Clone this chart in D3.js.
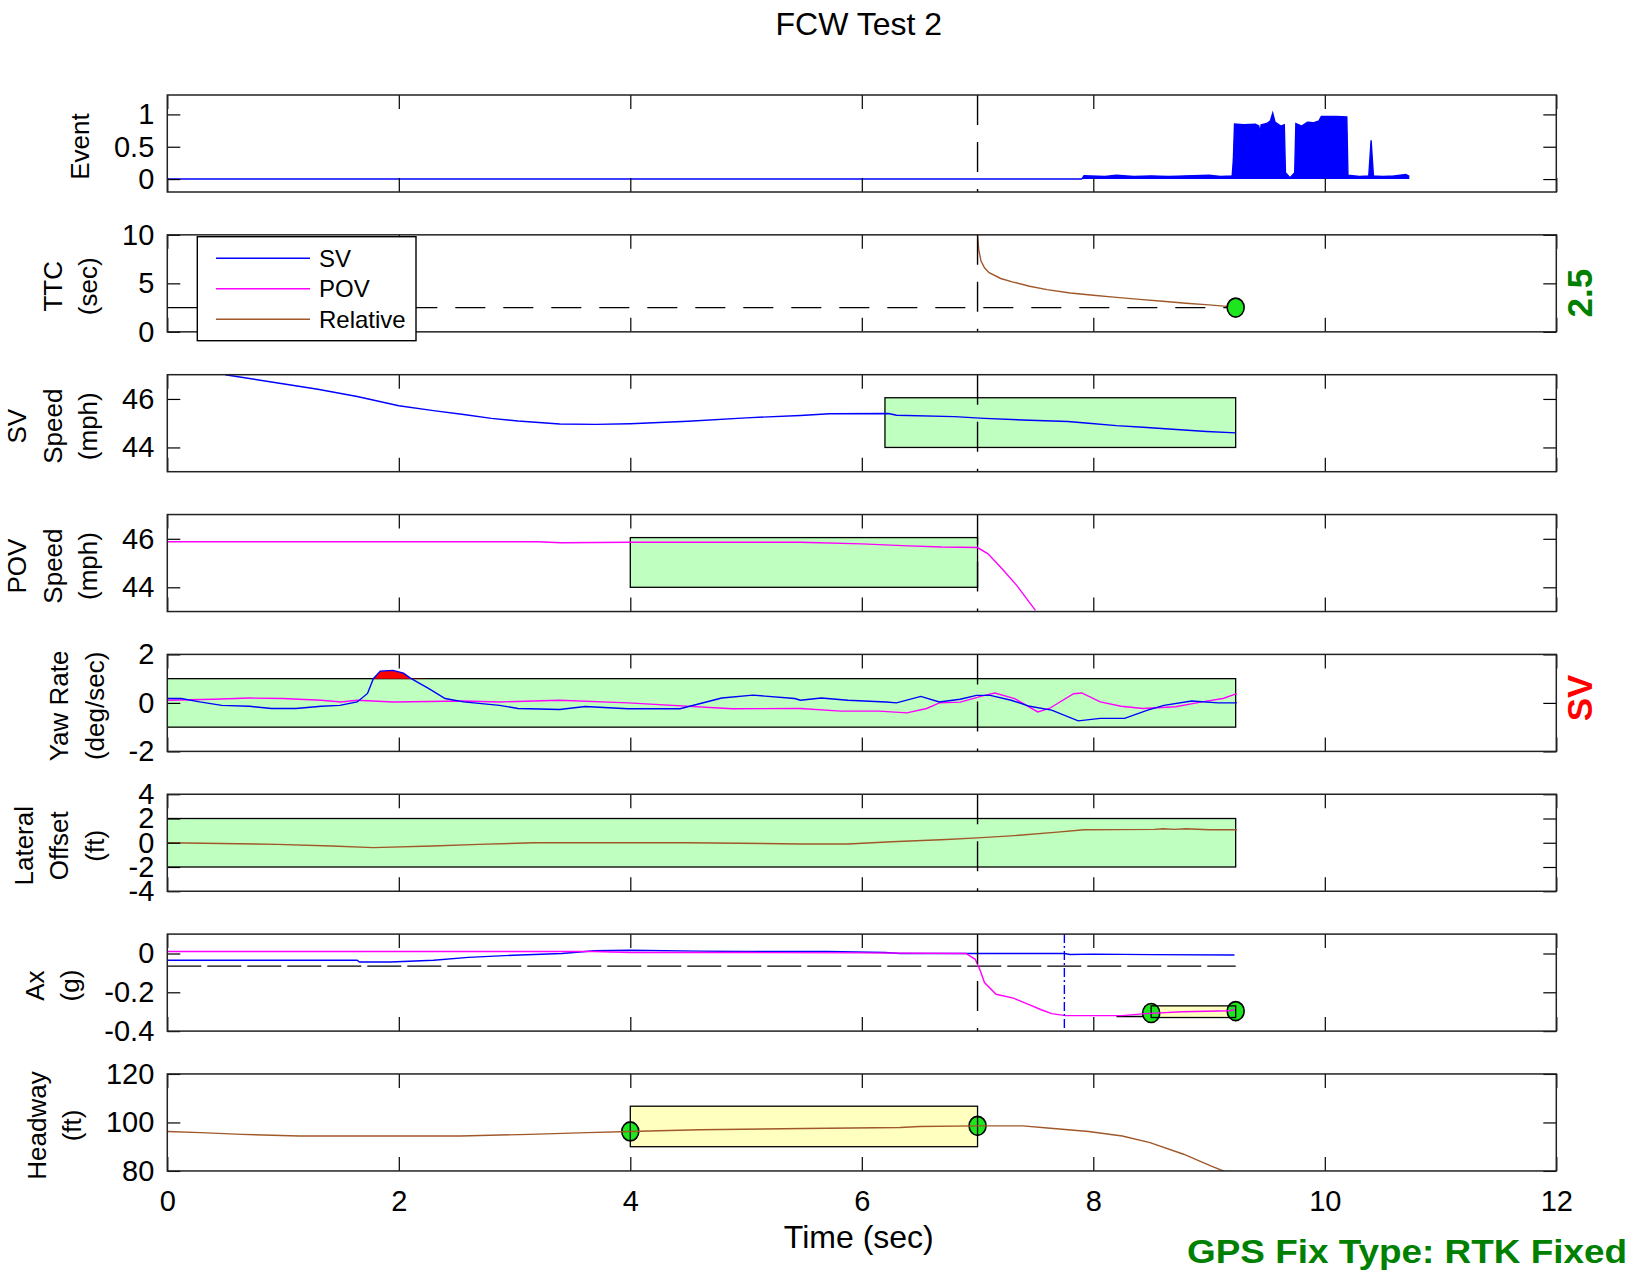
<!DOCTYPE html>
<html>
<head>
<meta charset="utf-8">
<script src="https://cdn.jsdelivr.net/npm/d3@7"></script>
<style>
  body { margin: 0; background: #fff; }
  svg text { font-family: "Liberation Sans", Arial, Helvetica, sans-serif; }
</style>
</head>
<body>
<script>
//everything inside an anonymous function so nothing leaks to global scope
(function(){

    //x axis (time, sec)
    var timeTicks = [0, 2, 4, 6, 8, 10, 12];

    //Event signal (envelope of the fast toggling flag)
    var eventT = [0, 7.9, 7.92, 8.1, 8.2, 8.35, 8.5, 8.65, 8.8, 9.0, 9.1, 9.2, 9.21, 9.22, 9.3, 9.4, 9.43, 9.44, 9.45, 9.5, 9.53, 9.55, 9.57, 9.62, 9.65, 9.66, 9.7, 9.74, 9.75, 9.8, 9.85, 9.9, 9.95, 9.97, 10.1, 10.19, 10.2, 10.3, 10.38, 10.4, 10.42, 10.5, 10.6, 10.7, 10.73];
    var eventV = [0, 0, 0.05, 0.04, 0.06, 0.04, 0.05, 0.04, 0.05, 0.06, 0.04, 0.05, 0.3, 0.85, 0.84, 0.85, 0.82, 0.7, 0.84, 0.86, 0.9, 1.02, 0.88, 0.82, 0.84, 0.1, 0.02, 0.1, 0.86, 0.82, 0.88, 0.87, 0.9, 0.97, 0.97, 0.96, 0.06, 0.04, 0.05, 0.6, 0.05, 0.04, 0.05, 0.07, 0.04];

    //TTC (relative)
    var ttcT = [7.0, 7.01, 7.03, 7.06, 7.1, 7.2, 7.3, 7.45, 7.6, 7.8, 8.0, 8.2, 8.4, 8.6, 8.8, 9.0, 9.23];
    var ttcV = [10, 8.5, 7.3, 6.6, 6.1, 5.5, 5.15, 4.7, 4.35, 4.0, 3.78, 3.55, 3.35, 3.15, 2.95, 2.78, 2.55];
    var ttcThreshold = 2.5;
    var ttcThresholdT = [0, 9.23];

    //SV speed (mph)
    var svT = [0.5, 0.9, 1.3, 1.64, 2.0, 2.3, 2.56, 2.8, 3.03, 3.39, 3.7, 4.0, 4.5, 5.0, 5.47, 5.72, 6.23, 6.3, 6.8, 7.06, 7.45, 7.78, 7.96, 8.2, 8.43, 8.75, 8.98, 9.23];
    var svV = [47.0, 46.7, 46.4, 46.1, 45.72, 45.52, 45.36, 45.2, 45.09, 44.97, 44.95, 44.98, 45.08, 45.22, 45.32, 45.39, 45.4, 45.33, 45.27, 45.2, 45.12, 45.07, 45.0, 44.9, 44.83, 44.73, 44.66, 44.6];
    var svBoxT = [6.2, 9.23], svBoxV = [44, 46.05];

    //POV speed (mph)
    var povT = [0, 3.2, 3.4, 4.0, 5.0, 5.47, 6.0, 6.35, 6.69, 7.0, 7.09, 7.2, 7.34, 7.5];
    var povV = [45.88, 45.88, 45.84, 45.86, 45.86, 45.86, 45.79, 45.72, 45.66, 45.64, 45.38, 44.83, 44.07, 43.05];
    var povBoxT = [4, 7], povBoxV = [44, 46.05];

    //yaw rate (deg/sec)
    var yawSvT = [0, 0.12, 0.28, 0.47, 0.71, 0.9, 1.11, 1.33, 1.49, 1.64, 1.73, 1.78, 1.84, 1.95, 2.04, 2.1, 2.26, 2.4, 2.56, 2.87, 3.03, 3.39, 3.61, 3.98, 4.43, 4.79, 5.06, 5.42, 5.47, 5.65, 5.88, 6.21, 6.3, 6.51, 6.67, 6.85, 6.99, 7.11, 7.29, 7.45, 7.64, 7.87, 8.06, 8.27, 8.47, 8.61, 8.85, 9.08, 9.24];
    var yawSvV = [0.18, 0.18, 0.04, -0.1, -0.14, -0.23, -0.23, -0.14, -0.1, 0.04, 0.39, 1.0, 1.31, 1.34, 1.23, 1.02, 0.59, 0.18, 0.04, -0.1, -0.23, -0.27, -0.15, -0.24, -0.24, 0.2, 0.32, 0.18, 0.11, 0.2, 0.11, 0.04, 0.0, 0.27, 0.04, 0.15, 0.31, 0.31, 0.11, -0.14, -0.3, -0.74, -0.64, -0.64, -0.3, -0.1, 0.08, 0.0, 0.0];
    var yawPovT = [0, 0.4, 0.71, 1.0, 1.33, 1.5, 1.64, 1.95, 2.56, 2.87, 3.39, 3.98, 4.88, 5.47, 5.82, 6.15, 6.39, 6.56, 6.67, 6.85, 7.06, 7.15, 7.32, 7.52, 7.62, 7.83, 7.9, 8.06, 8.24, 8.43, 8.71, 8.94, 9.12, 9.24];
    var yawPovV = [0.11, 0.15, 0.2, 0.18, 0.11, 0.04, 0.11, 0.04, 0.08, 0.04, 0.11, 0.0, -0.24, -0.23, -0.34, -0.34, -0.41, -0.23, 0.0, 0.03, 0.31, 0.41, 0.18, -0.37, -0.23, 0.38, 0.41, 0.04, -0.14, -0.23, -0.16, 0.04, 0.18, 0.38];
    var yawBoxT = [0, 9.23], yawBoxV = [-1, 1];

    //lateral offset (ft)
    var latT = [0, 0.95, 1.42, 1.78, 2.29, 2.69, 3.17, 4.5, 5.47, 5.88, 6.26, 6.73, 7.0, 7.32, 7.69, 7.92, 8.53, 8.6, 8.7, 8.8, 9.0, 9.24];
    var latV = [0, -0.13, -0.27, -0.4, -0.27, -0.13, 0, 0, -0.1, -0.1, 0.08, 0.27, 0.4, 0.59, 0.88, 1.07, 1.1, 1.15, 1.1, 1.15, 1.07, 1.07];
    var latBoxT = [0, 9.23], latBoxV = [-2, 2];

    //longitudinal acceleration (g)
    var axSvT = [0, 1.64, 1.66, 1.93, 2.3, 2.6, 2.99, 3.41, 3.69, 3.99, 4.6, 5.0, 5.7, 6.2, 6.33, 7.75, 7.8, 8.0, 8.5, 9.22];
    var axSvV = [-0.035, -0.035, -0.044, -0.044, -0.035, -0.02, -0.009, 0, 0.014, 0.017, 0.012, 0.01, 0.01, 0.005, 0, 0, -0.005, -0.003, -0.006, -0.008];
    var axPovT = [0, 3.69, 4.0, 5.0, 6.0, 6.9, 6.98, 7.02, 7.06, 7.16, 7.31, 7.43, 7.55, 7.64, 7.76, 8.25, 8.45, 8.77, 9.18, 9.22];
    var axPovV = [0.01, 0.01, 0.005, 0.005, 0.003, 0, -0.03, -0.083, -0.15, -0.21, -0.23, -0.26, -0.29, -0.31, -0.32, -0.32, -0.31, -0.3, -0.295, -0.29];
    var axThreshold = -0.065, axThresholdT = [0, 9.23];
    var axMarkerT = 7.75;
    var axBoxT = [8.5, 9.23], axBoxV = [-0.33, -0.27];
    var axLeadT = [8.2, 8.5], axLeadV = -0.325;
    var axDotT = [8.5, 9.23], axDotV = [-0.307, -0.297];

    //headway (ft)
    var hwT = [0, 0.29, 0.64, 1.14, 2.53, 3.13, 3.63, 3.99, 4.6, 5.5, 6.33, 6.5, 7.0, 7.39, 7.63, 7.96, 8.25, 8.49, 8.78, 9.02, 9.14];
    var hwV = [96.25, 95.8, 95.1, 94.4, 94.4, 95.1, 95.8, 96.25, 97, 97.5, 97.9, 98.3, 98.6, 98.6, 97.6, 96.25, 94.4, 91.7, 86.9, 82.0, 79.7];
    var hwBoxT = [4, 7], hwBoxV = [90, 106.7];
    var hwDotT = [4, 7], hwDotV = [96.3, 98.6];

    var ttcDotT = [9.23], ttcDotV = [2.5];
    var eventLineT = 7;

    //axis setup for each subplot
    var yDomains = [[-0.2, 1.3], [0, 10], [43, 47], [43, 47], [-2, 2], [-4, 4], [-0.4, 0.1], [80, 120]];
    var yTicks = [[0, 0.5, 1], [0, 5, 10], [44, 46], [44, 46], [-2, 0, 2], [-4, -2, 0, 2, 4], [-0.4, -0.2, 0], [80, 100, 120]];
    var yLabels = [["Event"], ["TTC", "(sec)"], ["SV", "Speed", "(mph)"], ["POV", "Speed", "(mph)"],
                   ["Yaw Rate", "(deg/sec)"], ["Lateral", "Offset", "(ft)"], ["Ax", "(g)"], ["Headway", "(ft)"]];
    var legendNames = ["SV", "POV", "Relative"];

    var blue = "#0000ff", magenta = "#ff00ff", brown = "#a0582a";
    var legendColors = [blue, magenta, brown];
    var greenFill = "#bfffbf", yellowFill = "#ffffc0", dotFill = "#1ee61e";

    var width = 1640, height = 1274;
    var left = 167.3, right = 1556.3;
    var panelTop0 = 95, panelStep = 139.85, panelH = 97;

    var svg = d3.select("body").append("svg")
        .attr("width", width)
        .attr("height", height);

    var x = d3.scaleLinear().domain([0, 12]).range([left, right]);

    var panels = [];
    for (var i = 0; i < yDomains.length; i++){
        var top = panelTop0 + i * panelStep;
        var y = d3.scaleLinear().domain(yDomains[i]).range([top + panelH, top]);
        svg.append("clipPath").attr("id", "clip" + i)
            .append("rect")
            .attr("x", left).attr("y", top)
            .attr("width", right - left).attr("height", panelH);
        var g = svg.append("g").attr("class", "panel");
        var plot = g.append("g").attr("clip-path", "url(#clip" + i + ")");
        panels.push({y: y, g: g, plot: plot, top: top, index: i});
    }

    function pairs(ts, vs){
        return ts.map(function(t, k){ return [t, vs[k]]; });
    }

    function drawLine(p, ts, vs, color, dash){
        var line = d3.line()
            .x(function(d){ return x(d[0]); })
            .y(function(d){ return p.y(d[1]); });
        return p.plot.append("path")
            .datum(pairs(ts, vs))
            .attr("d", line)
            .attr("fill", "none")
            .attr("stroke", color)
            .attr("stroke-width", 1.4)
            .attr("stroke-dasharray", dash || null);
    }

    function drawBox(p, bt, bv, fill){
        return p.plot.append("rect")
            .attr("x", x(bt[0]))
            .attr("y", p.y(bv[1]))
            .attr("width", x(bt[1]) - x(bt[0]))
            .attr("height", p.y(bv[0]) - p.y(bv[1]))
            .attr("fill", fill || "none")
            .attr("stroke", fill ? "none" : "#000")
            .attr("stroke-width", 1.3);
    }

    function drawDots(p, ts, vs){
        p.plot.selectAll(null)
            .data(pairs(ts, vs))
            .enter()
            .append("ellipse")
            .attr("cx", function(d){ return x(d[0]); })
            .attr("cy", function(d){ return p.y(d[1]); })
            .attr("rx", 8.5)
            .attr("ry", 9.5)
            .attr("fill", dotFill)
            .attr("stroke", "#000")
            .attr("stroke-width", 1.6);
    }

    function drawVLine(p, t, color, dash){
        var dom = p.y.domain();
        drawLine(p, [t, t], [dom[1], dom[0]], color, dash);
    }

    //Event
    var pE = panels[0];
    pE.plot.append("path")
        .datum(pairs(eventT, eventV))
        .attr("d", d3.area()
            .x(function(d){ return x(d[0]); })
            .y0(pE.y(0))
            .y1(function(d){ return pE.y(d[1]); }))
        .attr("fill", blue);
    drawLine(pE, eventT, eventV, blue);

    //TTC
    var pT = panels[1];
    drawLine(pT, ttcThresholdT, [ttcThreshold, ttcThreshold], "#000", "30,18");
    drawLine(pT, ttcT, ttcV, brown);
    drawDots(pT, ttcDotT, ttcDotV);

    //SV speed
    var pS = panels[2];
    drawBox(pS, svBoxT, svBoxV, greenFill);
    drawBox(pS, svBoxT, svBoxV);
    drawLine(pS, svT, svV, blue);

    //POV speed
    var pP = panels[3];
    drawBox(pP, povBoxT, povBoxV, greenFill);
    drawBox(pP, povBoxT, povBoxV);
    drawLine(pP, povT, povV, magenta);

    //yaw rate, red where SV exceeds the band
    var pY = panels[4];
    drawBox(pY, yawBoxT, yawBoxV, greenFill);
    drawBox(pY, yawBoxT, yawBoxV);
    pY.plot.append("path")
        .datum(pairs(yawSvT, yawSvV))
        .attr("d", d3.area()
            .x(function(d){ return x(d[0]); })
            .y0(pY.y(yawBoxV[1]))
            .y1(function(d){ return pY.y(Math.max(d[1], yawBoxV[1])); }))
        .attr("fill", "#ff0000");
    drawLine(pY, yawPovT, yawPovV, magenta);
    drawLine(pY, yawSvT, yawSvV, blue);

    //lateral offset
    var pL = panels[5];
    drawBox(pL, latBoxT, latBoxV, greenFill);
    drawBox(pL, latBoxT, latBoxV);
    drawLine(pL, latT, latV, brown);

    //Ax
    var pA = panels[6];
    drawLine(pA, axThresholdT, [axThreshold, axThreshold], "#000", "34,6");
    drawBox(pA, axBoxT, axBoxV, yellowFill);
    drawLine(pA, axLeadT, [axLeadV, axLeadV], "#000");
    drawDots(pA, axDotT, axDotV);
    drawBox(pA, axBoxT, axBoxV);
    drawLine(pA, axSvT, axSvV, blue);
    drawLine(pA, axPovT, axPovV, magenta);
    drawVLine(pA, axMarkerT, blue, "9,3,2,3");

    //headway
    var pH = panels[7];
    drawBox(pH, hwBoxT, hwBoxV, yellowFill);
    drawDots(pH, hwDotT, hwDotV);
    drawBox(pH, hwBoxT, hwBoxV);
    drawLine(pH, hwT, hwV, brown);

    //dashed event marker at t = 7 in the upper seven panels
    panels.slice(0, 7).forEach(function(p){
        drawVLine(p, eventLineT, "#000", "30,17");
    });

    //axes: ticks inside on all four sides, box frame
    panels.forEach(function(p){
        var i = p.index;
        var isLast = i === panels.length - 1;

        var yl = p.g.append("g")
            .attr("transform", "translate(" + left + ",0)")
            .call(d3.axisLeft(p.y).tickValues(yTicks[i]).tickSize(-13).tickSizeOuter(0).tickPadding(13)
                .tickFormat(function(d){ return String(d); }));
        p.g.append("g")
            .attr("transform", "translate(" + right + ",0)")
            .call(d3.axisRight(p.y).tickValues(yTicks[i]).tickSize(-13).tickSizeOuter(0).tickFormat(""));
        p.g.append("g")
            .attr("transform", "translate(0," + p.top + ")")
            .call(d3.axisTop(x).tickValues(timeTicks).tickSize(-14).tickSizeOuter(0).tickFormat(""));
        var xb = p.g.append("g")
            .attr("transform", "translate(0," + (p.top + panelH) + ")")
            .call(d3.axisBottom(x).tickValues(timeTicks).tickSize(-14).tickSizeOuter(0).tickPadding(19)
                .tickFormat(isLast ? function(d){ return String(d); } : ""));

        p.g.selectAll(".domain").remove();
        p.g.selectAll(".tick line").attr("stroke", "#000").attr("stroke-width", 1.2);
        p.g.selectAll(".tick text")
            .attr("fill", "#000")
            .style("font-size", "29px")
            .style("font-family", "'Liberation Sans', Arial, sans-serif");

        p.g.append("rect")
            .attr("x", left).attr("y", p.top)
            .attr("width", right - left).attr("height", panelH)
            .attr("fill", "none")
            .attr("stroke", "#222")
            .attr("stroke-width", 1.5);

        //multi line y label, last line nearest the axis
        var maxW = 0;
        yl.selectAll(".tick text").each(function(){
            maxW = Math.max(maxW, this.getComputedTextLength());
        });
        var lastX = left - 13 - maxW - 34;
        var lines = yLabels[i];
        var cy = p.top + panelH / 2 + 3;
        lines.forEach(function(txt, j){
            var cx = lastX - (lines.length - 1 - j) * 35.5;
            p.g.append("text")
                .attr("transform", "translate(" + cx + "," + cy + ") rotate(-90)")
                .attr("text-anchor", "middle")
                .attr("dy", "0.35em")
                .style("font-size", "26px")
                .text(txt);
        });
    });

    //legend in TTC panel
    var leg = svg.append("g").attr("class", "legend");
    leg.append("rect")
        .attr("x", 197.3).attr("y", 236.7)
        .attr("width", 218.7).attr("height", 104)
        .attr("fill", "#fff")
        .attr("stroke", "#000")
        .attr("stroke-width", 1.4);
    legendNames.forEach(function(name, k){
        var ly = 258.3 + k * 30.5;
        leg.append("line")
            .attr("x1", 216).attr("x2", 310)
            .attr("y1", ly).attr("y2", ly)
            .attr("stroke", legendColors[k])
            .attr("stroke-width", 1.4);
        leg.append("text")
            .attr("x", 319).attr("y", ly)
            .attr("dy", "0.35em")
            .style("font-size", "24px")
            .text(name);
    });

    //side annotations
    svg.append("text")
        .attr("transform", "translate(1580," + (pT.top + panelH * 0.6) + ") rotate(-90)")
        .attr("text-anchor", "middle")
        .attr("dy", "0.35em")
        .attr("fill", "#008000")
        .style("font-size", "35px")
        .style("font-weight", "bold")
        .text("2.5");
    svg.append("text")
        .attr("transform", "translate(1580," + (pY.top + panelH / 2 - 5) + ") rotate(-90)")
        .attr("text-anchor", "middle")
        .attr("dy", "0.35em")
        .attr("fill", "#ff0000")
        .style("font-size", "35px")
        .style("font-weight", "bold")
        .text("SV");

    //title, x label, footer
    svg.append("text")
        .attr("x", (left + right) / 2 - 3).attr("y", 35)
        .attr("text-anchor", "middle")
        .style("font-size", "32px")
        .text("FCW Test 2");
    svg.append("text")
        .attr("x", (left + right) / 2 - 3).attr("y", 1248)
        .attr("text-anchor", "middle")
        .style("font-size", "32px")
        .text("Time (sec)");
    svg.append("text")
        .attr("x", 1627).attr("y", 1263)
        .attr("text-anchor", "end")
        .attr("fill", "#008000")
        .attr("textLength", 440)
        .attr("lengthAdjust", "spacingAndGlyphs")
        .style("font-size", "33px")
        .style("font-weight", "bold")
        .text("GPS Fix Type: RTK Fixed");

})();
</script>
</body>
</html>
